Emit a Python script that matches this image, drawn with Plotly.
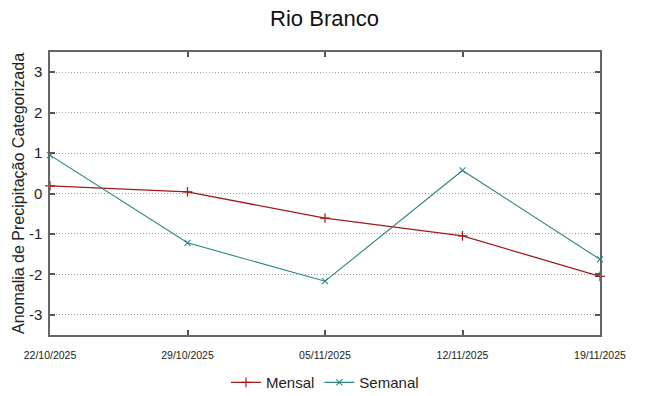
import plotly.graph_objects as go

dates = ["2025-10-22", "2025-10-29", "2025-11-05", "2025-11-12", "2025-11-19"]
date_labels = ["22/10/2025", "29/10/2025", "05/11/2025", "12/11/2025", "19/11/2025"]
mensal = [0.19, 0.04, -0.61, -1.05, -2.05]
semanal = [0.95, -1.22, -2.17, 0.57, -1.63]
y_ticks = [-3, -2, -1, 0, 1, 2, 3]
y_tick_labels = ["-3", "-2", "-1", "0", "1", "2", "3"]

fig = go.Figure()
fig.add_trace(go.Scatter(
    x=dates, y=mensal, name="Mensal", mode="lines+markers", cliponaxis=False,
    line=dict(color="#a31a1a", width=1.3),
    marker=dict(symbol="cross-thin", size=7, line=dict(color="#a31a1a", width=1.2)),
))
fig.add_trace(go.Scatter(
    x=dates, y=semanal, name="Semanal", mode="lines+markers", cliponaxis=False,
    line=dict(color="#2a8585", width=1.1),
    marker=dict(symbol="x-thin", size=6, line=dict(color="#2a8585", width=1.1)),
))

axis_common = dict(
    showline=True, linecolor="#666666", linewidth=1.5, mirror="ticks",
    ticks="inside", ticklen=5, tickcolor="#555555", tickwidth=1.5,
    zeroline=False, automargin=False,
)

fig.update_layout(
    width=649, height=396,
    paper_bgcolor="white", plot_bgcolor="white",
    margin=dict(l=50, r=49, t=52, b=61, autoexpand=False),
    font=dict(family="Liberation Sans, Arial, sans-serif", color="#222222"),
    title=dict(text="Rio Branco", x=0.5, xanchor="center", y=0.955, yanchor="middle",
               font=dict(size=22, color="#111111"), automargin=False),
    xaxis=dict(
        type="date", range=[dates[0], dates[-1]],
        tickvals=dates, ticktext=date_labels, ticklabelstandoff=10,
        tickfont=dict(size=10.5), showgrid=False, **axis_common,
    ),
    yaxis=dict(
        range=[-3.5, 3.5], tickvals=y_ticks, ticktext=y_tick_labels,
        tickfont=dict(size=15), ticklabelstandoff=3,
        showgrid=True, gridcolor="#a0a0a0", griddash="1px,2px", gridwidth=1,
        title=dict(text="Anomalia de Precipitação Categorizada", font=dict(size=16), standoff=0),
        **axis_common,
    ),
    legend=dict(orientation="h", x=0.5, xanchor="center", y=-0.11, yanchor="top",
                font=dict(size=15), bgcolor="rgba(0,0,0,0)"),
    showlegend=True,
)

fig.write_html("out.html", config={"displayModeBar": False},
               post_script="document.body.style.margin='0';document.body.style.overflow='hidden';")
